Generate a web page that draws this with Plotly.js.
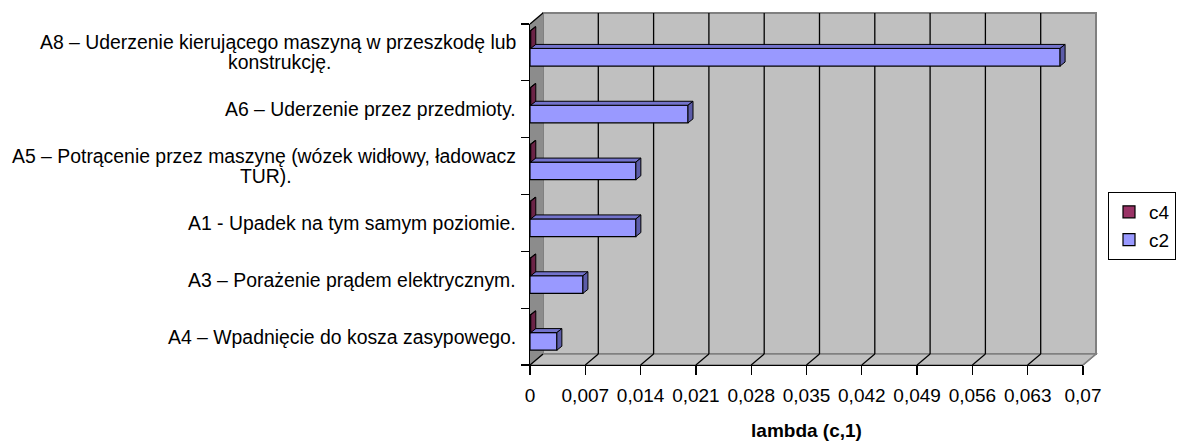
<!DOCTYPE html>
<html>
<head>
<meta charset="utf-8">
<script src="https://cdn.plot.ly/plotly-3.0.1.min.js"></script>
<style>html,body{margin:0;padding:0;background:#fff;}#chart{width:1180px;height:441px;}</style>
</head>
<body>
<div id="chart"></div>
<script>
// ---- data ----
const categories = [
  'A4 – Wpadnięcie do kosza zasypowego.',
  'A3 – Porażenie prądem elektrycznym.',
  'A1 - Upadek na tym samym poziomie.',
  'A5 – Potrącenie przez maszynę (wózek widłowy, ładowacz TUR).',
  'A6 – Uderzenie przez przedmioty.',
  'A8 – Uderzenie kierującego maszyną w przeszkodę lub konstrukcję.'
];
const categoryLabels = [
  'A4 – Wpadnięcie do kosza zasypowego.',
  'A3 – Porażenie prądem elektrycznym.',
  'A1 - Upadek na tym samym poziomie.',
  'A5 – Potrącenie przez maszynę (wózek widłowy, ładowacz<br>TUR).',
  'A6 – Uderzenie przez przedmioty.',
  'A8 – Uderzenie kierującego maszyną w przeszkodę lub<br>konstrukcję.'
];
const seriesNames = ['c2', 'c4'];
const c2Values = [0.0034, 0.0067, 0.0134, 0.0134, 0.0200, 0.0671];
const c4Values = [0.0001, 0.0001, 0.0001, 0.0001, 0.0001, 0.0001];
const xTickVals = [0, 0.007, 0.014, 0.021, 0.028, 0.035, 0.042, 0.049, 0.056, 0.063, 0.07];
const xTickText = ['0', '0,007', '0,014', '0,021', '0,028', '0,035', '0,042', '0,049', '0,056', '0,063', '0,07'];
const axisTitle = 'lambda (c,1)';

// ---- styling / layout geometry ----
const FONT = 'Liberation Sans, Arial, sans-serif';
const W = 1180, H = 441;
const L = 530, R = 1083, T = 24, B = 365;
const PW = R - L, PH = B - T;
const DX = 13, DY = 11;          // wall depth (px)
const BDX = 5, BDY = 4;          // bar depth (px)
const XMIN = 0, XMAX = 0.07;
const NCAT = categories.length;
const BW = 0.31;                 // bar thickness (category units)
const SHIFT = 4 / (PH / NCAT);   // bars sit slightly behind the front plane

const colors = {
  c2: {front: '#9999FF', top: '#7373CC', side: '#5C5CA8'},
  c4: {front: '#993366', top: '#7A2952', side: '#6B2447'}
};

const pxX = v => L + (v - XMIN) / (XMAX - XMIN) * PW;
const paperX = px => (px - L) / PW;
const paperY = py => (B - py) / PH;

const shapes = [];
// back wall
shapes.push({type: 'rect', xref: 'paper', yref: 'paper', layer: 'below',
  x0: paperX(L + DX), x1: paperX(R + DX), y0: paperY(B - DY), y1: paperY(T - DY),
  fillcolor: '#C0C0C0', line: {color: '#808080', width: 2}});
// floor
shapes.push({type: 'path', xref: 'paper', yref: 'paper', layer: 'below',
  path: `M${paperX(L)},${paperY(B)} L${paperX(L + DX)},${paperY(B - DY)} L${paperX(R + DX)},${paperY(B - DY)} L${paperX(R)},${paperY(B)} Z`,
  fillcolor: '#C0C0C0', line: {color: '#808080', width: 1.5}});
// left wall
shapes.push({type: 'path', xref: 'paper', yref: 'paper', layer: 'below',
  path: `M${paperX(L)},${paperY(T)} L${paperX(L + DX)},${paperY(T - DY)} L${paperX(L + DX)},${paperY(B - DY)} L${paperX(L)},${paperY(B)} Z`,
  fillcolor: '#8C8C8C', line: {width: 0}});
shapes.push({type: 'line', xref: 'paper', yref: 'paper', layer: 'below',
  x0: paperX(L), y0: paperY(T), x1: paperX(L + DX), y1: paperY(T - DY),
  line: {color: '#000', width: 1.3}});
// grid lines on back wall + floor
xTickVals.forEach((v, i) => {
  const px = pxX(v);
  if (i > 0 && i < xTickVals.length - 1) {
    shapes.push({type: 'line', xref: 'paper', yref: 'paper', layer: 'below',
      x0: paperX(px + DX), x1: paperX(px + DX), y0: paperY(B - DY), y1: paperY(T - DY),
      line: {color: '#000', width: 1.3}});
  }
  shapes.push({type: 'line', xref: 'paper', yref: 'paper', layer: 'below',
    x0: paperX(px), y0: paperY(B), x1: paperX(px + DX), y1: paperY(B - DY),
    line: {color: i === xTickVals.length - 1 ? '#808080' : '#000', width: 1.2}});
});

// 3D faces of bars (data-driven, via axis coordinates)
const ddx = BDX * (XMAX - XMIN) / PW;
const ddy = BDY / (PH / NCAT);
function addFaces(values, offset, col) {
  values.forEach((v, i) => {
    const y0 = i + offset, y1 = i + offset + BW;
    shapes.push({type: 'path', xref: 'x', yref: 'y', layer: 'above',
      path: `M0,${y1} L${v},${y1} L${v + ddx},${y1 + ddy} L${ddx},${y1 + ddy} Z`,
      fillcolor: col.top, line: {color: '#000', width: 1}});
    shapes.push({type: 'path', xref: 'x', yref: 'y', layer: 'above',
      path: `M${v},${y0} L${v},${y1} L${v + ddx},${y1 + ddy} L${v + ddx},${y0 + ddy} Z`,
      fillcolor: col.side, line: {color: '#000', width: 1}});
  });
}
const offC2 = -BW + SHIFT, offC4 = SHIFT;
addFaces(c2Values, offC2, colors.c2);
addFaces(c4Values, offC4, colors.c4);

// category labels (centred multi-line, like the original)
const ctx = document.createElement('canvas').getContext('2d');
const LABEL_SIZE = 19.4;
ctx.font = `${LABEL_SIZE}px "Liberation Sans"`;
const annotations = [];
const LABEL_RIGHT = 518;
categories.forEach((cat, i) => {
  const lines = categoryLabels[i].split('<br>');
  if (lines.length === 1) {
    annotations.push({xref: 'paper', yref: 'y', x: paperX(LABEL_RIGHT), y: cat, xanchor: 'right',
      text: lines[0], showarrow: false, font: {family: FONT, size: LABEL_SIZE, color: '#000'}});
  } else {
    const w1 = ctx.measureText(lines[0]).width;
    annotations.push({xref: 'paper', yref: 'y', x: paperX(LABEL_RIGHT), y: cat, xanchor: 'right', yshift: 10,
      text: lines[0], showarrow: false, font: {family: FONT, size: LABEL_SIZE, color: '#000'}});
    annotations.push({xref: 'paper', yref: 'y', x: paperX(LABEL_RIGHT - w1 / 2), y: cat, xanchor: 'center', yshift: -10,
      text: lines[1], showarrow: false, font: {family: FONT, size: LABEL_SIZE, color: '#000'}});
  }
});

const traces = [
  {type: 'bar', orientation: 'h', name: seriesNames[0], y: categories, x: c2Values,
   width: BW, offset: offC2,
   marker: {color: colors.c2.front, line: {color: '#000', width: 1.2}}, hoverinfo: 'x+name'},
  {type: 'bar', orientation: 'h', name: seriesNames[1], y: categories, x: c4Values,
   width: BW, offset: offC4,
   marker: {color: colors.c4.front, line: {color: '#000', width: 1.2}}, hoverinfo: 'x+name'}
];

const layout = {
  width: W, height: H,
  margin: {l: L, r: W - R, t: T, b: H - B, pad: 0, autoexpand: false},
  paper_bgcolor: '#fff', plot_bgcolor: 'rgba(0,0,0,0)',
  font: {family: FONT, size: 19, color: '#000'},
  barmode: 'overlay',
  showlegend: true,
  legend: {traceorder: 'reversed', x: paperX(1176), xanchor: 'right', y: paperY(226), yanchor: 'middle',
    bgcolor: '#fff', bordercolor: '#000', borderwidth: 1, font: {family: FONT, size: 19},
    itemwidth: 30},
  xaxis: {range: [XMIN, XMAX], tickvals: xTickVals, ticktext: xTickText, showgrid: false, zeroline: false,
    showline: true, linecolor: '#000', linewidth: 1.3, ticks: 'outside', ticklen: 9, tickcolor: '#000', tickwidth: 1.3,
    ticklabelstandoff: 4,
    tickfont: {family: FONT, size: 19}, fixedrange: true,
    title: {text: axisTitle, font: {family: FONT, size: 19, weight: 'bold'}, standoff: 21}},
  yaxis: {type: 'category', categoryorder: 'array', categoryarray: categories, range: [-0.5, NCAT - 0.5],
    showgrid: false, zeroline: false, showline: true, linecolor: '#000', linewidth: 1.3,
    ticks: 'outside', tickson: 'boundaries', ticklen: 8, tickcolor: '#000', tickwidth: 1.3,
    showticklabels: false, fixedrange: true},
  shapes: shapes,
  annotations: annotations
};

Plotly.newPlot('chart', traces, layout, {displayModeBar: false, staticPlot: true});
</script>
</body>
</html>
